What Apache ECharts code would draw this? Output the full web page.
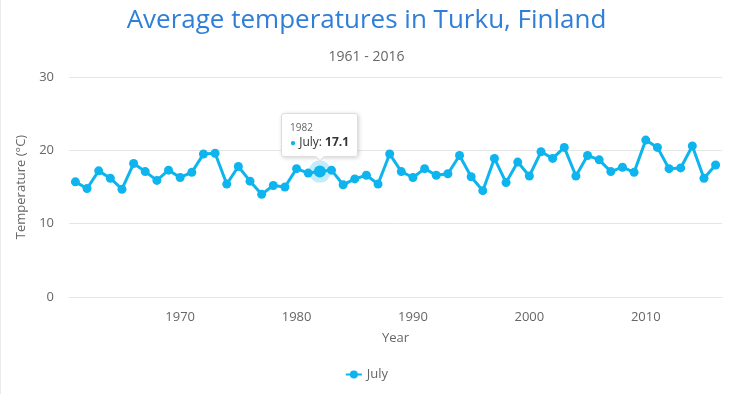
<!DOCTYPE html>
<html>
<head>
<meta charset="utf-8">
<script src="https://cdn.jsdelivr.net/npm/echarts@6/dist/echarts.min.js"></script>
<style>
html,body{margin:0;padding:0;background:#fff;}
#chart{width:732px;height:394px;border-left:1px solid #eaeaea;box-sizing:border-box;}
</style>
</head>
<body>
<div id="chart"></div>
<script>
var years = [1961,1962,1963,1964,1965,1966,1967,1968,1969,1970,
             1971,1972,1973,1974,1975,1976,1977,1978,1979,1980,
             1981,1982,1983,1984,1985,1986,1987,1988,1989,1990,
             1991,1992,1993,1994,1995,1996,1997,1998,1999,2000,
             2001,2002,2003,2004,2005,2006,2007,2008,2009,2010,
             2011,2012,2013,2014,2015,2016];
var julyTemps = [15.7,14.8,17.2,16.2,14.7,18.2,17.1,15.9,17.3,16.3,
                 17.0,19.5,19.6,15.4,17.8,15.8,14.0,15.2,15.0,17.5,
                 16.9,17.1,17.3,15.3,16.1,16.6,15.4,19.5,17.1,16.3,
                 17.5,16.6,16.8,19.3,16.4,14.5,18.9,15.6,18.4,16.5,
                 19.8,18.9,20.4,16.5,19.3,18.7,17.1,17.7,17.0,21.4,
                 20.4,17.5,17.6,20.6,16.2,18.0];
var xTickLabels = [1970,1980,1990,2000,2010];
var yTicks = [0,10,20,30];
var seriesName = 'July';
var tooltipYear = 1982;

var lineColor = '#0db4ee';
var tipIdx = years.indexOf(tooltipYear);

var chart = echarts.init(document.getElementById('chart'));
chart.setOption({
  animation: false,
  textStyle: {fontFamily: 'Open Sans'},
  title: {
    text: 'Average temperatures in Turku, Finland',
    subtext: '1961 - 2016',
    left: 'center',
    top: 3,
    itemGap: 16,
    textStyle: {color: '#2f7ed8', fontSize: 26, fontWeight: 'normal', fontFamily: 'Open Sans'},
    subtextStyle: {color: '#666666', fontSize: 14, fontFamily: 'Open Sans'}
  },
  grid: {left: 68, right: 10, top: 77, bottom: 97, containLabel: false},
  legend: {
    bottom: 8,
    left: 'center',
    itemWidth: 16,
    itemHeight: 10,
    textStyle: {color: '#666666', fontSize: 13, fontFamily: 'Open Sans'},
    data: [seriesName]
  },
  tooltip: {
    trigger: 'item',
    triggerOn: 'none',
    alwaysShowContent: true,
    position: 'top',
    backgroundColor: 'rgba(255,255,255,0.97)',
    borderColor: '#dddddd',
    borderWidth: 1,
    padding: [6, 8],
    extraCssText: 'box-shadow:1px 1px 4px rgba(0,0,0,0.18);border-radius:3px;',
    formatter: function (p) {
      return '<div style="font-size:10px;color:#666;line-height:14px;">' + p.value[0] + '</div>' +
        '<div style="font-size:12px;color:#333;line-height:16px;"><span style="color:' + lineColor + ';font-size:10px;">\u25CF</span> ' +
        p.seriesName + ': <b>' + p.value[1] + '</b></div>';
    }
  },
  xAxis: {
    type: 'value',
    min: 1960.45,
    max: 2016.55,
    name: 'Year',
    nameLocation: 'middle',
    nameGap: 35,
    nameTextStyle: {color: '#666666', fontSize: 13, fontFamily: 'Open Sans'},
    axisLine: {show: true, lineStyle: {color: '#e6e6e6'}},
    axisTick: {show: false},
    splitLine: {show: false},
    axisLabel: {
      customValues: xTickLabels,
      color: '#666666', fontSize: 13, margin: 14, fontFamily: 'Open Sans',
      formatter: function (v) { return String(v); }
    }
  },
  yAxis: {
    type: 'value',
    min: 0,
    max: 30,
    interval: 10,
    name: 'Temperature (\u00B0C)',
    nameLocation: 'middle',
    nameGap: 38,
    nameTextStyle: {color: '#666666', fontSize: 13, fontFamily: 'Open Sans'},
    axisLine: {show: false},
    axisTick: {show: false},
    splitLine: {lineStyle: {color: '#e6e6e6'}},
    axisLabel: {
      customValues: yTicks,
      color: '#666666', fontSize: 13, margin: 15, fontFamily: 'Open Sans'
    }
  },
  series: [{
    name: seriesName,
    type: 'line',
    data: years.map(function (y, i) { return [y, julyTemps[i]]; }),
    color: lineColor,
    lineStyle: {width: 3, color: lineColor},
    symbol: 'circle',
    symbolSize: 9,
    showAllSymbol: true,
    itemStyle: {color: lineColor},
    emphasis: {disabled: true},
    markPoint: {
      silent: true,
      label: {show: false},
      data: [
        {coord: [years[tipIdx], julyTemps[tipIdx]], symbol: 'circle', symbolSize: 22,
         itemStyle: {color: 'rgba(13,180,238,0.25)'}},
        {coord: [years[tipIdx], julyTemps[tipIdx]], symbol: 'circle', symbolSize: 12,
         itemStyle: {color: lineColor}}
      ]
    }
  }]
});
chart.dispatchAction({type: 'showTip', seriesIndex: 0, dataIndex: tipIdx});
</script>
</body>
</html>
